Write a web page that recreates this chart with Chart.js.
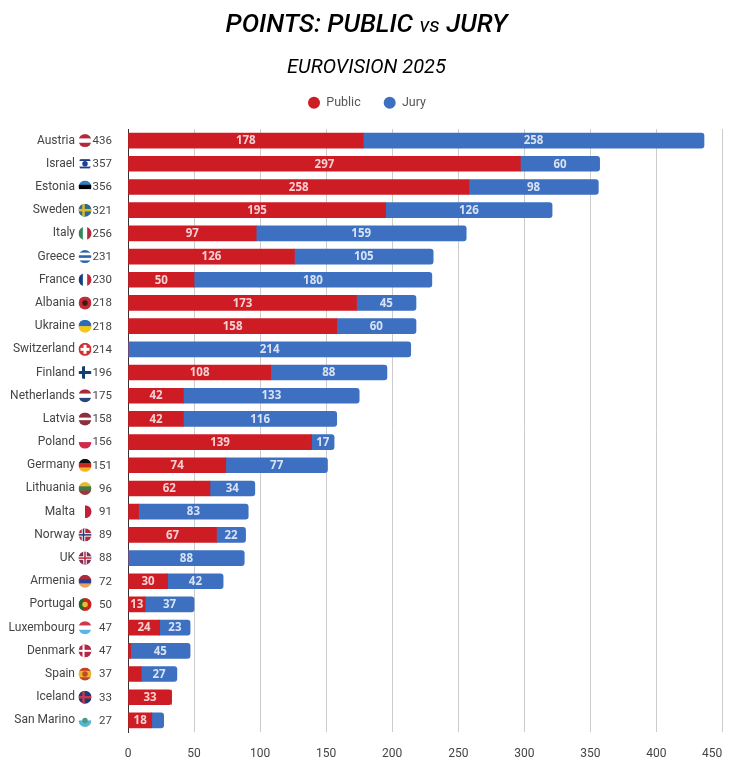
<!DOCTYPE html>
<html>
<head>
<meta charset="utf-8">
<title>Points: Public vs Jury</title>
<script src="https://cdn.jsdelivr.net/npm/chart.js@4"></script>
<style>
    html, body { margin: 0; padding: 0; background: #fff; }
    #wrap { position: relative; width: 737px; height: 783px; overflow: hidden; }
    #lineTitle {
        position: absolute; left: -2px; top: 6px; width: 737px; margin: 0;
        text-align: center; font: italic 500 26px/34px Roboto, sans-serif; color: #000;
    }
    #lineTitle span { font-size: 21px; font-weight: 400; }
    canvas { position: absolute; left: 0; top: 0; }
</style>
</head>
<body>
<div id="wrap">
    <canvas id="pointsChart" width="737" height="783"></canvas>
    <h1 id="lineTitle">POINTS: PUBLIC <span>vs</span> JURY</h1>
</div>
<script>
// DATA
const countries = ["Austria", "Israel", "Estonia", "Sweden", "Italy", "Greece", "France", "Albania", "Ukraine", "Switzerland", "Finland", "Netherlands", "Latvia", "Poland", "Germany", "Lithuania", "Malta", "Norway", "UK", "Armenia", "Portugal", "Luxembourg", "Denmark", "Spain", "Iceland", "San Marino"];
const publicPoints = [178, 297, 258, 195, 97, 126, 50, 173, 158, 0, 108, 42, 42, 139, 74, 62, 8, 67, 0, 30, 13, 24, 2, 10, 33, 18];
const juryPoints = [258, 60, 98, 126, 159, 105, 180, 45, 60, 214, 88, 133, 116, 17, 77, 34, 83, 22, 88, 42, 37, 23, 45, 27, 0, 9];
const totals = [436, 357, 356, 321, 256, 231, 230, 218, 218, 214, 196, 175, 158, 156, 151, 96, 91, 89, 88, 72, 50, 47, 47, 37, 33, 27];
const xTicks = [0, 50, 100, 150, 200, 250, 300, 350, 400, 450];

const RED = "#cd1c24";
const BLUE = "#3d70c0";
const TEXT = "#444";
const FONT = "Roboto, sans-serif";

// flags: h = horizontal bands, v = vertical bands, cross = [color, thickness, x offset, arm length]
const flags = {
    "Austria": { h: ["#b5283a", "#fff", "#b5283a"] },
    "Israel": { h: ["#fff", "#1f3f8f", "#fff", "#fff", "#fff", "#1f3f8f", "#fff"], dot: "#1f3f8f" },
    "Estonia": { h: ["#2f7fc4", "#000", "#fff"] },
    "Sweden": { h: ["#2d6a94"], cross: ["#e2bb2a", 2.5, -1.5] },
    "Italy": { v: ["#2f8a57", "#fff", "#b52a3a"] },
    "Greece": { h: ["#2a66a8", "#fff", "#2a66a8", "#fff", "#2a66a8"] },
    "France": { v: ["#143f7c", "#fff", "#c22840"] },
    "Albania": { h: ["#c62a36"], dot: "#3a1a1a" },
    "Ukraine": { h: ["#2a6cb8", "#f3c71e"] },
    "Switzerland": { h: ["#cf3030"], cross: ["#fff", 3, 0, 4.5] },
    "Finland": { h: ["#fff"], cross: ["#123f73", 3, -1.5] },
    "Netherlands": { h: ["#a9283a", "#fff", "#27457c"] },
    "Latvia": { h: ["#8c2e3e", "#8c2e3e", "#fff", "#8c2e3e", "#8c2e3e"] },
    "Poland": { h: ["#fff", "#cf2a4a"] },
    "Germany": { h: ["#111", "#c8261e", "#f0b81e"] },
    "Lithuania": { h: ["#e6bc2c", "#3f7a4a", "#a5343a"] },
    "Malta": { v: ["#fff", "#c2203a"] },
    "Norway": { h: ["#b8283c"], cross: ["#fff", 3.5, -1.5], cross2: ["#1f3a7a", 1.5, -1.5] },
    "UK": { h: ["#7c3058"], cross: ["#fff", 3.5, 0], cross2: ["#b8283c", 1.5, 0] },
    "Armenia": { h: ["#b02a3a", "#2a3f9c", "#e6a45c"] },
    "Portugal": { v: ["#1f6b32", "#c8201e", "#c8201e"], dot: "#e6c02a" },
    "Luxembourg": { h: ["#cf3a4a", "#fff", "#5ab4e6"] },
    "Denmark": { h: ["#b02a48"], cross: ["#fff", 2, -1.5] },
    "Spain": { h: ["#c8401e", "#f0b030", "#f0b030", "#c8401e"], dot: "#b5502a" },
    "Iceland": { h: ["#1f3a7a"], cross: ["#c8384a", 2.5, -1.5] },
    "San Marino": { h: ["#fff", "#5ab4d6"], dot: "#4a9a8a" }
};

function drawFlag(ctx, name, cx, cy, r) {
    const f = flags[name];
    ctx.save();
    ctx.beginPath();
    ctx.arc(cx, cy, r, 0, Math.PI * 2);
    ctx.clip();
    const bands = f.h || f.v;
    bands.forEach((c, i) => {
        ctx.fillStyle = c;
        const step = (2 * r) / bands.length;
        if (f.h) ctx.fillRect(cx - r, cy - r + i * step, 2 * r, step + 0.5);
        else ctx.fillRect(cx - r + i * step, cy - r, step + 0.5, 2 * r);
    });
    [f.cross, f.cross2].forEach(c => {
        if (!c) return;
        const arm = c[3] || r;
        ctx.fillStyle = c[0];
        ctx.fillRect(cx - arm, cy - c[1] / 2, 2 * arm, c[1]);
        ctx.fillRect(cx + c[2] - c[1] / 2, cy - arm, c[1], 2 * arm);
    });
    if (f.dot) {
        ctx.fillStyle = f.dot;
        ctx.beginPath();
        ctx.arc(cx, cy, r * 0.42, 0, Math.PI * 2);
        ctx.fill();
    }
    ctx.restore();
}

// title and legend sit a bit higher than the layout puts them
const moveBlocks = {
    id: "moveBlocks",
    afterLayout(chart) {
        chart.titleBlock.top -= 9;
        chart.titleBlock.bottom -= 9;
        chart.titleBlock.left -= 2;
        chart.titleBlock.right -= 2;
        chart.legend.top -= 10;
        chart.legend.bottom -= 10;
        chart.legend.left -= 1.5;
        chart.legend.right -= 1.5;
    }
};

// flag + total next to every country name
const rowExtras = {
    id: "rowExtras",
    afterDraw(chart) {
        const ctx = chart.ctx;
        const y = chart.scales.y;
        ctx.save();
        ctx.font = "11.5px " + FONT;
        ctx.fillStyle = TEXT;
        ctx.textAlign = "right";
        ctx.textBaseline = "middle";
        countries.forEach((name, i) => {
            const py = y.getPixelForValue(i);
            drawFlag(ctx, name, 85, py, 6.5);
            ctx.fillText(totals[i], 112, py + 0.5);
        });
        ctx.restore();
    }
};

// values inside the bars, small segments stay empty
const barLabels = {
    id: "barLabels",
    afterDatasetsDraw(chart) {
        const ctx = chart.ctx;
        ctx.save();
        ctx.font = "bold 11.5px 'Open Sans', sans-serif";
        ctx.textAlign = "center";
        ctx.textBaseline = "middle";
        chart.data.datasets.forEach((ds, d) => {
            ctx.fillStyle = "rgba(255,255,255,0.8)";
            chart.getDatasetMeta(d).data.forEach((bar, i) => {
                if (ds.data[i] < 13) return;
                const p = bar.getProps(["x", "base", "y"], true);
                ctx.fillText(ds.data[i], (p.x + p.base) / 2, p.y + 0.5);
            });
        });
        ctx.restore();
    }
};

const rightRound = { topLeft: 0, bottomLeft: 0, topRight: 3, bottomRight: 3 };

new Chart(document.getElementById("pointsChart").getContext("2d"), {
    type: "bar",
    data: {
        labels: countries,
        datasets: [
            {
                label: "Public",
                data: publicPoints,
                backgroundColor: RED,
                borderSkipped: false,
                barThickness: 15,
                borderRadius: c => (juryPoints[c.dataIndex] == 0 ? rightRound : 0)
            },
            {
                label: "Jury",
                data: juryPoints,
                backgroundColor: BLUE,
                borderSkipped: false,
                barThickness: 15,
                borderRadius: rightRound
            }
        ]
    },
    options: {
        indexAxis: "y",
        responsive: false,
        animation: false,
        layout: { padding: { top: 46, right: 0, bottom: 0, left: 0 } },
        plugins: {
            title: {
                display: true,
                text: "EUROVISION 2025",
                color: "#000",
                font: { family: FONT, size: 20, style: "italic", weight: "400" },
                padding: { top: 0, bottom: -5 }
            },
            legend: {
                position: "top",
                labels: {
                    usePointStyle: true,
                    pointStyle: "circle",
                    pointStyleWidth: 12,
                    boxHeight: 8.5,
                    color: "#555",
                    padding: 23,
                    font: { family: FONT, size: 12.5 }
                }
            },
            tooltip: { enabled: false }
        },
        scales: {
            x: {
                stacked: true,
                min: 0,
                max: 450,
                afterBuildTicks: s => { s.ticks = xTicks.map(v => ({ value: v })); },
                afterFit: s => { s.height = 51; s.paddingRight = 14.5; },
                grid: { color: "#ccc", drawTicks: false },
                border: { display: false },
                ticks: {
                    color: TEXT,
                    font: { family: FONT, size: 12 },
                    padding: 15,
                    maxRotation: 0,
                    // last label sits left of its gridline
                    callback: v => (v == 450 ? v + "       " : "" + v)
                }
            },
            y: {
                stacked: true,
                afterFit: s => { s.width = 128; s.paddingTop = 129; s.paddingBottom = 51; },
                grid: { display: false },
                border: { display: true, color: "#333", width: 1 },
                ticks: {
                    color: TEXT,
                    font: { family: FONT, size: 12 },
                    padding: 45,
                    autoSkip: false
                }
            }
        }
    },
    plugins: [moveBlocks, rowExtras, barLabels]
});
</script>
</body>
</html>
